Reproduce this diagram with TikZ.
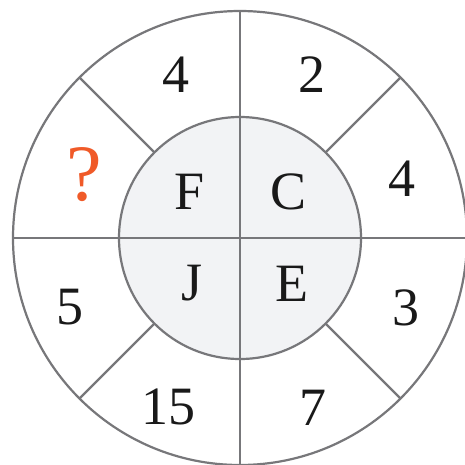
\documentclass[tikz,border=0pt]{standalone}
\usepackage{fontspec}
\setmainfont{Liberation Serif}
\definecolor{ln}{HTML}{77777A}
\definecolor{innerfill}{HTML}{F2F3F5}
\definecolor{qorange}{HTML}{F05A28}
\begin{document}
\begin{tikzpicture}[x=1pt,y=-1pt,
  ring/.style={circle,draw=ln,line width=2.2pt,inner sep=0pt,outer sep=0pt},
  sep/.style={draw=ln,line width=2.2pt},
  lbl/.style={anchor=base,inner sep=0pt,font=\fontsize{54}{60}\selectfont,text=black!90}]
\useasboundingbox (0,0) rectangle (465,464);
\clip (0,0) rectangle (465,464);
\node[ring,fill=white,minimum size=454pt] (outer) at (240,238) {};
\node[ring,fill=innerfill,minimum size=242pt] (inner) at (240,238) {};
\draw[sep] (outer.0) -- (outer.180);
\draw[sep] (outer.90) -- (outer.270);
\foreach \a in {45,135,225,315}
  \draw[sep] (inner.\a) -- (outer.\a);
% outer numbers
\node[lbl] (n1) at (176,92) {4};
\node[lbl] (n2) at (312,92) {2};
\node[lbl] (n3) at (402,196) {4};
\node[lbl] (n4) at (406,325) {3};
\node[lbl] (n5) at (313,425) {7};
\node[lbl] (n6) at (168,424) {15};
\node[lbl] (n7) at (70,324) {5};
\node[lbl,text=qorange,font=\fontsize{80}{90}\selectfont] (q) at (84,200) {?};
% inner letters
\node[lbl] (f) at (189.5,209) {F};
\node[lbl] (c) at (288.5,209) {C};
\node[lbl] (j) at (192,300) {J};
\node[lbl] (e) at (291.5,301) {E};
\end{tikzpicture}
\end{document}
